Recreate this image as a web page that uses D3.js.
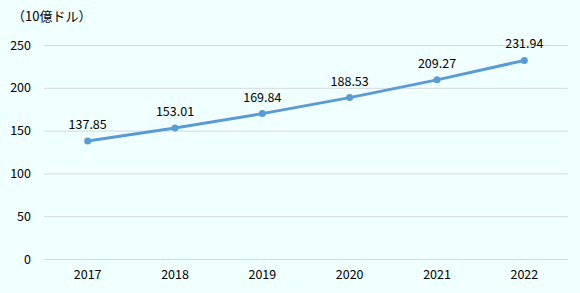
<!DOCTYPE html>
<html><head><meta charset="utf-8">
<script src="https://cdn.jsdelivr.net/npm/d3@7"></script>
<style>html,body{margin:0;padding:0;background:#F0FFFF;}svg{display:block;}</style>
</head><body>
<svg id="c" width="580" height="293"></svg>
<script>
const categories = ["2017","2018","2019","2020","2021","2022"];
const values = [137.85,153.01,169.84,188.53,209.27,231.94];
const yTicks = [0,50,100,150,200,250];
const unitLabel = "（10億ドル）";

const svg = d3.select("#c");
const font = "'Noto Sans CJK JP','Noto Sans',sans-serif";
const m = {l:44, r:12, t:45, b:34};
const W = 580, H = 293;
const x = d3.scaleBand().domain(categories).range([m.l, W - m.r]);
const y = d3.scaleLinear().domain([0,250]).range([H - m.b, m.t]);

svg.append("rect").attr("width",W).attr("height",H).attr("fill","#F0FFFF");

const yAxis = svg.append("g").attr("transform",`translate(${m.l},0)`)
  .call(d3.axisLeft(y).tickValues(yTicks).tickSize(-(W - m.l - m.r)).tickPadding(13));
yAxis.select(".domain").remove();
yAxis.selectAll("line").attr("stroke","#D9D9D9").attr("stroke-width",1);
yAxis.selectAll("text").attr("font-family",font).attr("font-size",12.5).attr("fill","#000");

const xAxis = svg.append("g").attr("transform",`translate(0,${H - m.b})`)
  .call(d3.axisBottom(x).tickSize(0).tickPadding(11));
xAxis.select(".domain").remove();
xAxis.selectAll("text").attr("font-family",font).attr("font-size",12.5).attr("fill","#000");

const cx = d => x(d) + x.bandwidth()/2;
const pts = categories.map((c,i)=>({c, v: values[i]}));

svg.append("path").datum(pts)
  .attr("d", d3.line().x(d=>cx(d.c)).y(d=>y(d.v)))
  .attr("fill","none").attr("stroke","#5B9BD5").attr("stroke-width",3).attr("stroke-linejoin","round");

svg.selectAll("circle.pt").data(pts).join("circle")
  .attr("cx",d=>cx(d.c)).attr("cy",d=>y(d.v)).attr("r",3.5).attr("fill","#5B9BD5");

svg.selectAll("text.lbl").data(pts).join("text")
  .attr("x",d=>cx(d.c)).attr("y",d=>y(d.v)-12)
  .attr("text-anchor","middle").attr("font-family",font).attr("font-size",12.5).attr("fill","#000")
  .text(d=>d.v.toFixed(2));

svg.append("text").attr("x",12).attr("y",21).attr("font-family",font).attr("font-size",13).attr("fill","#000").text(unitLabel);
</script>
</body></html>
